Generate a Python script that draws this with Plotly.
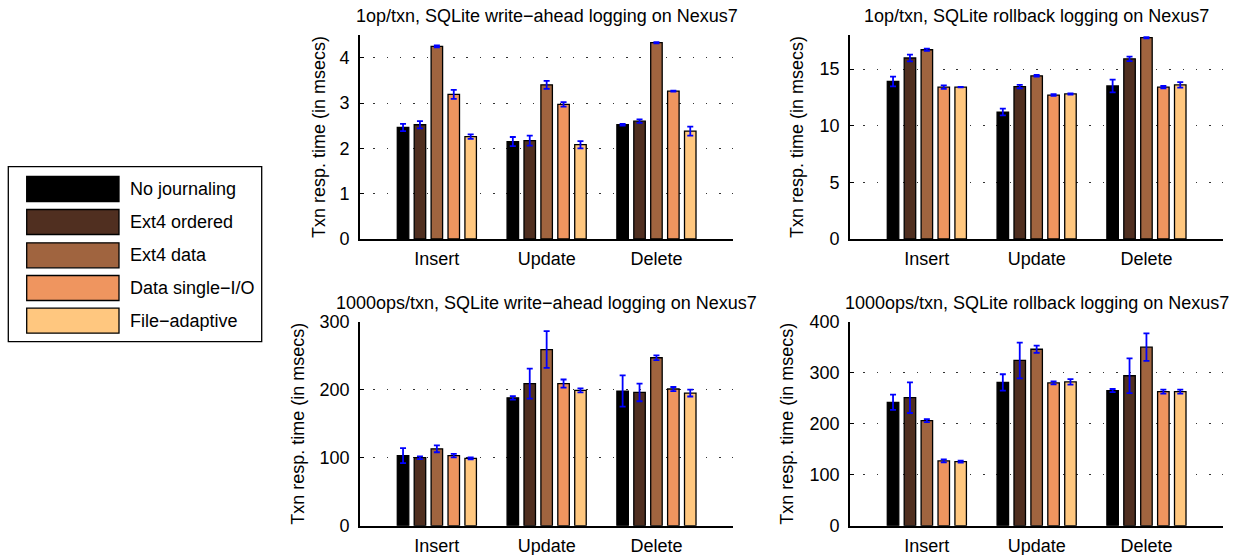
import plotly.graph_objects as go

W, H = 1238, 555

categories = ["Insert", "Update", "Delete"]
series_names = ["No journaling", "Ext4 ordered", "Ext4 data", "Data single\u2212I/O", "File\u2212adaptive"]
series_colors = ["#000000", "#502F20", "#A0643F", "#EF955F", "#FFC77F"]

# 1op/txn, write-ahead logging
wal1_vals = [
    [2.46, 2.15, 2.52],
    [2.52, 2.17, 2.60],
    [4.25, 3.40, 4.33],
    [3.19, 2.97, 3.26],
    [2.26, 2.08, 2.38],
]
wal1_errs = [
    [0.08, 0.10, 0.02],
    [0.08, 0.11, 0.04],
    [0.02, 0.09, 0.015],
    [0.10, 0.05, 0.01],
    [0.05, 0.08, 0.10],
]
# 1op/txn, rollback logging
rb1_vals = [
    [13.9, 11.2, 13.5],
    [15.97, 13.45, 15.9],
    [16.7, 14.4, 17.76],
    [13.4, 12.7, 13.4],
    [13.4, 12.8, 13.6],
]
rb1_errs = [
    [0.43, 0.30, 0.56],
    [0.30, 0.15, 0.20],
    [0.10, 0.08, 0.05],
    [0.15, 0.08, 0.10],
    [0.03, 0.05, 0.25],
]
# 1000ops/txn, write-ahead logging
wal1000_vals = [
    [103, 188, 198],
    [100, 209, 196],
    [113, 259, 247],
    [103, 209, 201],
    [99, 199, 195],
]
wal1000_errs = [
    [11, 2.5, 23],
    [2, 22, 13],
    [5, 27, 3.5],
    [2.5, 6, 3],
    [1.5, 3, 5],
]
# 1000ops/txn, rollback logging
rb1000_vals = [
    [242, 281, 265],
    [251, 324, 294],
    [206, 346, 350],
    [127, 280, 263],
    [125.5, 282, 263],
]
rb1000_errs = [
    [15, 16, 3],
    [30, 35, 34],
    [3, 7, 27],
    [3, 3, 4],
    [2, 5.5, 4],
]

titles = [
    "1op/txn, SQLite write\u2212ahead logging on Nexus7",
    "1op/txn, SQLite rollback logging on Nexus7",
    "1000ops/txn, SQLite write\u2212ahead logging on Nexus7",
    "1000ops/txn, SQLite rollback logging on Nexus7",
]
y_title = "Txn resp. time (in msecs)"
y_ranges = [[0, 4.5], [0, 18], [0, 300], [0, 400]]
y_ticks = [[0, 1, 2, 3, 4], [0, 5, 10, 15], [0, 100, 200, 300], [0, 100, 200, 300, 400]]

panels = [
    (wal1_vals, wal1_errs),
    (rb1_vals, rb1_errs),
    (wal1000_vals, wal1000_errs),
    (rb1000_vals, rb1000_errs),
]

# pixel boxes of each axes: (left, right, top, bottom)
boxes = [
    (360, 733.3, 35, 239),
    (850, 1223.3, 35, 239),
    (360, 733.3, 321.7, 525.7),
    (850, 1223.3, 321.7, 525.7),
]
ytitle_x = [319, 797, 298, 787]
title_y = [16, 302.5]

FONT = "Liberation Sans, Arial, Helvetica, sans-serif"

def px(x):
    return x / W

def py(y):
    return 1 - y / H

fig = go.Figure()

for p, (vals, errs) in enumerate(panels):
    xa = "x" if p == 0 else f"x{p+1}"
    ya = "y" if p == 0 else f"y{p+1}"
    for s in range(len(series_names)):
        fig.add_trace(go.Bar(
            x=categories, y=vals[s], name=series_names[s],
            marker=dict(color=series_colors[s], line=dict(color="#000000", width=1.3)),
            error_y=dict(type="data", array=errs[s], visible=True,
                         color="#0000FF", thickness=1.8, width=3),
            xaxis=xa, yaxis=ya, showlegend=False,
            offsetgroup=str(s),
        ))

layout = dict(
    width=W, height=H,
    margin=dict(l=0, r=0, t=0, b=0, pad=0, autoexpand=False),
    paper_bgcolor="white", plot_bgcolor="white",
    barmode="group", bargap=0.23, bargroupgap=0.32,
    font=dict(family=FONT, size=18, color="#000000"),
    showlegend=False,
)

annotations = []
shapes = []
for p in range(4):
    l, r, t, b = boxes[p]
    sfx = "" if p == 0 else str(p + 1)
    layout["xaxis" + sfx] = dict(
        domain=[px(l), px(r)], anchor="y" + sfx, automargin=False,
        type="category", range=[-0.7, 2.7],
        showline=True, linecolor="#000000", linewidth=1.6,
        showgrid=False, ticks="", zeroline=False,
        tickfont=dict(family=FONT, size=18, color="#000000"),
        ticklabelstandoff=3,
    )
    layout["yaxis" + sfx] = dict(
        domain=[py(b), py(t)], anchor="x" + sfx, automargin=False,
        range=y_ranges[p], tickvals=y_ticks[p],
        showline=True, linecolor="#000000", linewidth=1.6,
        showgrid=True, gridcolor="#333333", gridwidth=1, griddash="1.5px,11.8px",
        zeroline=False, ticks="inside", ticklen=4, tickcolor="#000000",
        tickfont=dict(family=FONT, size=18, color="#000000"),
        ticklabelstandoff=5,
    )
    annotations.append(dict(
        text=titles[p], x=px((l + r) / 2), y=py(title_y[p // 2]),
        xref="paper", yref="paper", xanchor="center", yanchor="middle",
        showarrow=False, font=dict(family=FONT, size=18, color="#000000"),
    ))
    annotations.append(dict(
        text=y_title, x=px(ytitle_x[p]), y=py((t + b) / 2),
        xref="paper", yref="paper", xanchor="center", yanchor="middle",
        textangle=-90, showarrow=False,
        font=dict(family=FONT, size=18, color="#000000"),
    ))

# legend box (drawn manually to match the large swatches)
shapes.append(dict(type="rect", xref="paper", yref="paper",
                   x0=px(8.3), x1=px(261.7), y0=py(341.7), y1=py(166.7),
                   line=dict(color="#000000", width=1.3), fillcolor="white"))
row_centers = [189, 222, 255.3, 288, 320.7]
for s in range(len(series_names)):
    cy = row_centers[s]
    shapes.append(dict(type="rect", xref="paper", yref="paper",
                       x0=px(26.7), x1=px(119), y0=py(cy + 12.5), y1=py(cy - 12.5),
                       line=dict(color="#000000", width=1.3),
                       fillcolor=series_colors[s]))
    annotations.append(dict(
        text=series_names[s], x=px(128.3), y=py(cy),
        xref="paper", yref="paper", xanchor="left", yanchor="middle",
        showarrow=False, font=dict(family=FONT, size=18, color="#000000"),
    ))

layout["annotations"] = annotations
layout["shapes"] = shapes
fig.update_layout(**layout)

fig.write_html(
    "out.html",
    config={"displayModeBar": False},
    post_script="document.body.style.margin='0px';document.body.style.padding='0px';document.body.style.overflow='hidden';",
)
